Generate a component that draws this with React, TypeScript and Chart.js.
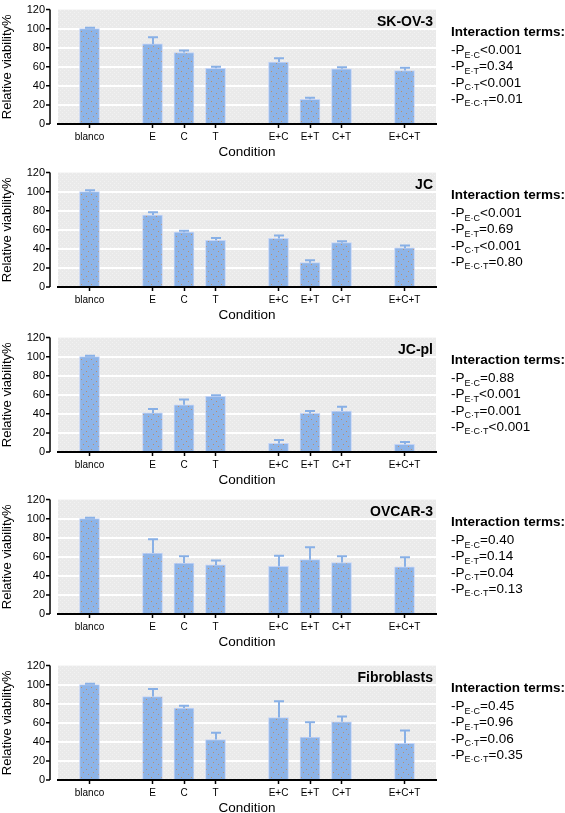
import React, { useEffect, useRef } from "react";
import { Chart, registerables } from "chart.js";

Chart.register(...registerables);

// ---------- data ----------
const CONDITION_GROUPS: string[][] = [["blanco"], ["E", "C", "T"], ["E+C", "E+T", "C+T"], ["E+C+T"]];
const Y_MAX = 120;
const Y_STEP = 20;
const X_TITLE = "Condition";
const Y_TITLE = "Relative viability%";
const TERMS_HEADER = "Interaction terms:";
const TERM_SUBSCRIPTS = ["E·C", "E·T", "C·T", "E·C·T"];

const SKOV3_NAME = "SK-OV-3";
const SKOV3_MEAN = [100, 84, 75, 58.5, 65, 26, 58, 56];
const SKOV3_ERR = [1, 7, 2, 1.5, 4, 1.5, 1.5, 3];
const SKOV3_P = ["<0.001", "=0.34", "<0.001", "=0.01"];

const JC_NAME = "JC";
const JC_MEAN = [100, 75.5, 57.5, 49, 51, 25.5, 46.5, 41];
const JC_ERR = [1.5, 3, 1.5, 2.5, 3, 2.5, 1.5, 2.5];
const JC_P = ["<0.001", "=0.69", "<0.001", "=0.80"];

const JCPL_NAME = "JC-pl";
const JCPL_MEAN = [100, 41, 49.5, 58.5, 9, 40.5, 43, 8];
const JCPL_ERR = [1, 4, 5.5, 1, 3.5, 2.5, 4.5, 2.5];
const JCPL_P = ["=0.88", "<0.001", "=0.001", "<0.001"];

const OVCAR3_NAME = "OVCAR-3";
const OVCAR3_MEAN = [100, 64, 53.5, 51.5, 50, 57, 54, 49.5];
const OVCAR3_ERR = [1, 14.5, 7, 4.5, 11, 13, 6.5, 10];
const OVCAR3_P = ["=0.40", "=0.14", "=0.04", "=0.13"];

const FIBRO_NAME = "Fibroblasts";
const FIBRO_MEAN = [100, 87.5, 75.5, 42.5, 65.5, 45, 61, 38.5];
const FIBRO_ERR = [1, 8, 2.5, 7, 17, 15.5, 5.5, 13.5];
const FIBRO_P = ["=0.45", "=0.96", "=0.06", "=0.35"];

// ---------- layout / style ----------
const FONT = "'Liberation Sans', Arial, Helvetica, sans-serif";
const W = 565;
const CANVAS_H = 170;
const CANVAS_SHIFT = 10; // canvas starts this many px above panel top
const PANEL_TOPS = [0, 163, 328, 490, 656];
const BAR_BLUE = "#8db4e8";
const ERR_BLUE = "#88b0e6";

function slotLabels(): string[] {
  const out: string[] = [""];
  CONDITION_GROUPS.forEach((g, gi) => {
    if (gi > 0) out.push("");
    out.push(...g);
  });
  out.push("");
  return out;
}

function toSlots(values: number[], labels: string[]): (number | null)[] {
  let k = 0;
  return labels.map((l) => (l === "" ? null : values[k++]));
}

function makeBarPattern(): CanvasPattern | string {
  const c = document.createElement("canvas");
  c.width = 10;
  c.height = 10;
  const g = c.getContext("2d");
  if (!g) return BAR_BLUE;
  g.fillStyle = BAR_BLUE;
  g.fillRect(0, 0, 10, 10);
  g.fillStyle = "rgba(190,140,95,0.9)";
  [[1, 1], [6, 3], [3, 6], [8, 8]].forEach(([x, y]) => g.fillRect(x, y, 1, 1));
  return g.createPattern(c, "repeat") || BAR_BLUE;
}

function makeBgPattern(): CanvasPattern | string {
  const c = document.createElement("canvas");
  c.width = 4;
  c.height = 4;
  const g = c.getContext("2d");
  if (!g) return "#ebebeb";
  g.fillStyle = "#eaeaea";
  g.fillRect(0, 0, 4, 4);
  g.fillStyle = "#f2f2f2";
  g.fillRect(0, 0, 1, 1);
  g.fillRect(2, 2, 1, 1);
  return g.createPattern(c, "repeat") || "#ebebeb";
}

type PanelProps = {
  top: number;
  name: string;
  mean: number[];
  err: number[];
  pvals: string[];
};

function Panel({ top, name, mean, err, pvals }: PanelProps) {
  const ref = useRef<HTMLCanvasElement | null>(null);

  useEffect(() => {
    const canvas = ref.current;
    if (!canvas) return;
    const labels = slotLabels();
    const data = toSlots(mean, labels);
    const errs = toSlots(err, labels);

    const decorations = {
      id: "decorations",
      beforeDraw(chart: any) {
        const { ctx, chartArea } = chart;
        ctx.save();
        ctx.fillStyle = makeBgPattern();
        ctx.fillRect(chartArea.left, chartArea.top, chartArea.right - chartArea.left, chartArea.bottom - chartArea.top);
        ctx.restore();
      },
      afterDatasetsDraw(chart: any) {
        const { ctx, chartArea, scales } = chart;
        const y = scales.y;
        const meta = chart.getDatasetMeta(0);
        ctx.save();
        // error bars (upper only)
        ctx.strokeStyle = ERR_BLUE;
        ctx.lineWidth = 2;
        data.forEach((v, i) => {
          const e = errs[i];
          if (v == null || e == null) return;
          const el = meta.data[i];
          const x = Math.round(el.x);
          const y0 = y.getPixelForValue(v);
          const y1 = y.getPixelForValue(v + e);
          ctx.beginPath();
          ctx.moveTo(x, y0);
          ctx.lineTo(x, y1);
          ctx.moveTo(x - 5, y1);
          ctx.lineTo(x + 5, y1);
          ctx.stroke();
        });
        // offset y axis line and ticks
        const ax = chartArea.left - 8;
        ctx.strokeStyle = "#000";
        ctx.lineWidth = 1.5;
        ctx.beginPath();
        ctx.moveTo(ax, y.getPixelForValue(Y_MAX));
        ctx.lineTo(ax, y.getPixelForValue(0));
        for (let v = 0; v <= Y_MAX; v += Y_STEP) {
          const py = y.getPixelForValue(v);
          ctx.moveTo(ax - 4, py);
          ctx.lineTo(ax, py);
        }
        ctx.stroke();
        // panel title
        ctx.fillStyle = "#000";
        ctx.font = `bold 14px ${FONT}`;
        ctx.textAlign = "right";
        ctx.textBaseline = "middle";
        ctx.fillText(name, chartArea.right - 3, chartArea.top + 13);
        // interaction terms
        const tx = 451;
        ctx.textAlign = "left";
        ctx.font = `bold 13.5px ${FONT}`;
        ctx.fillText(TERMS_HEADER, tx, CANVAS_SHIFT + 32);
        pvals.forEach((p, i) => {
          const ly = CANVAS_SHIFT + 49 + i * 16.3;
          ctx.textBaseline = "alphabetic";
          const base = ly + 5;
          ctx.font = `13.5px ${FONT}`;
          let x = tx;
          ctx.fillText("-P", x, base);
          x += ctx.measureText("-P").width;
          ctx.font = `9px ${FONT}`;
          ctx.fillText(TERM_SUBSCRIPTS[i], x, base + 3.5);
          x += ctx.measureText(TERM_SUBSCRIPTS[i]).width;
          ctx.font = `13.5px ${FONT}`;
          ctx.fillText(p, x, base);
        });
        ctx.restore();
      },
    };

    const chart = new Chart(canvas, {
      type: "bar",
      data: {
        labels,
        datasets: [
          {
            data,
            backgroundColor: makeBarPattern() as any,
            borderColor: "rgba(196,212,246,1)",
            borderWidth: 1,
            barThickness: 20,
          },
        ],
      },
      options: {
        responsive: false,
        animation: false,
        events: [],
        layout: { padding: { left: 0, right: W - 436, top: CANVAS_SHIFT + 4, bottom: 0 } },
        plugins: { legend: { display: false }, tooltip: { enabled: false }, title: { display: false } },
        scales: {
          x: {
            type: "category",
            offset: false,
            afterFit: (s: any) => {
              s.height = 36;
            },
            grid: {
              display: true,
              offset: false,
              drawOnChartArea: false,
              drawTicks: true,
              tickLength: 4,
              tickWidth: 1.5,
              tickColor: (c: any) => (c.tick && c.tick.label ? "#000" : "rgba(0,0,0,0)"),
              color: "rgba(0,0,0,0)",
            },
            border: { display: true, color: "#000", width: 2 },
            ticks: {
              autoSkip: false,
              maxRotation: 0,
              padding: 3,
              color: "#000",
              font: { family: FONT, size: 10 },
            },
            title: {
              display: true,
              text: X_TITLE,
              color: "#000",
              font: { family: FONT, size: 13.5 },
              padding: { top: 0, bottom: 0 },
            },
          },
          y: {
            min: 0,
            max: Y_MAX,
            afterFit: (s: any) => {
              s.width = 58;
            },
            ticks: {
              stepSize: Y_STEP,
              padding: 13,
              color: "#000",
              font: { family: FONT, size: 11 },
            },
            grid: {
              drawTicks: false,
              lineWidth: 2,
              color: (c: any) =>
                c.tick && (c.tick.value === 0 || c.tick.value === Y_MAX) ? "rgba(0,0,0,0)" : "#ffffff",
            },
            border: { display: false },
            title: {
              display: true,
              text: Y_TITLE,
              color: "#000",
              font: { family: FONT, size: 13 },
              padding: { top: 0, bottom: 0 },
            },
          },
        },
      },
      plugins: [decorations],
    });
    return () => chart.destroy();
  }, [name, mean, err, pvals]);

  return (
    <canvas
      ref={ref}
      width={W}
      height={CANVAS_H}
      style={{ position: "absolute", left: 0, top: top - CANVAS_SHIFT, width: W, height: CANVAS_H }}
    />
  );
}

const PANELS: PanelProps[] = [
  { top: PANEL_TOPS[0], name: SKOV3_NAME, mean: SKOV3_MEAN, err: SKOV3_ERR, pvals: SKOV3_P },
  { top: PANEL_TOPS[1], name: JC_NAME, mean: JC_MEAN, err: JC_ERR, pvals: JC_P },
  { top: PANEL_TOPS[2], name: JCPL_NAME, mean: JCPL_MEAN, err: JCPL_ERR, pvals: JCPL_P },
  { top: PANEL_TOPS[3], name: OVCAR3_NAME, mean: OVCAR3_MEAN, err: OVCAR3_ERR, pvals: OVCAR3_P },
  { top: PANEL_TOPS[4], name: FIBRO_NAME, mean: FIBRO_MEAN, err: FIBRO_ERR, pvals: FIBRO_P },
];

export default function App() {
  return (
    <div
      style={{
        position: "absolute",
        left: 0,
        top: 0,
        width: W,
        height: 813,
        overflow: "hidden",
        background: "#fff",
      }}
    >
      {PANELS.map((p) => (
        <Panel key={p.name} {...p} />
      ))}
    </div>
  );
}
